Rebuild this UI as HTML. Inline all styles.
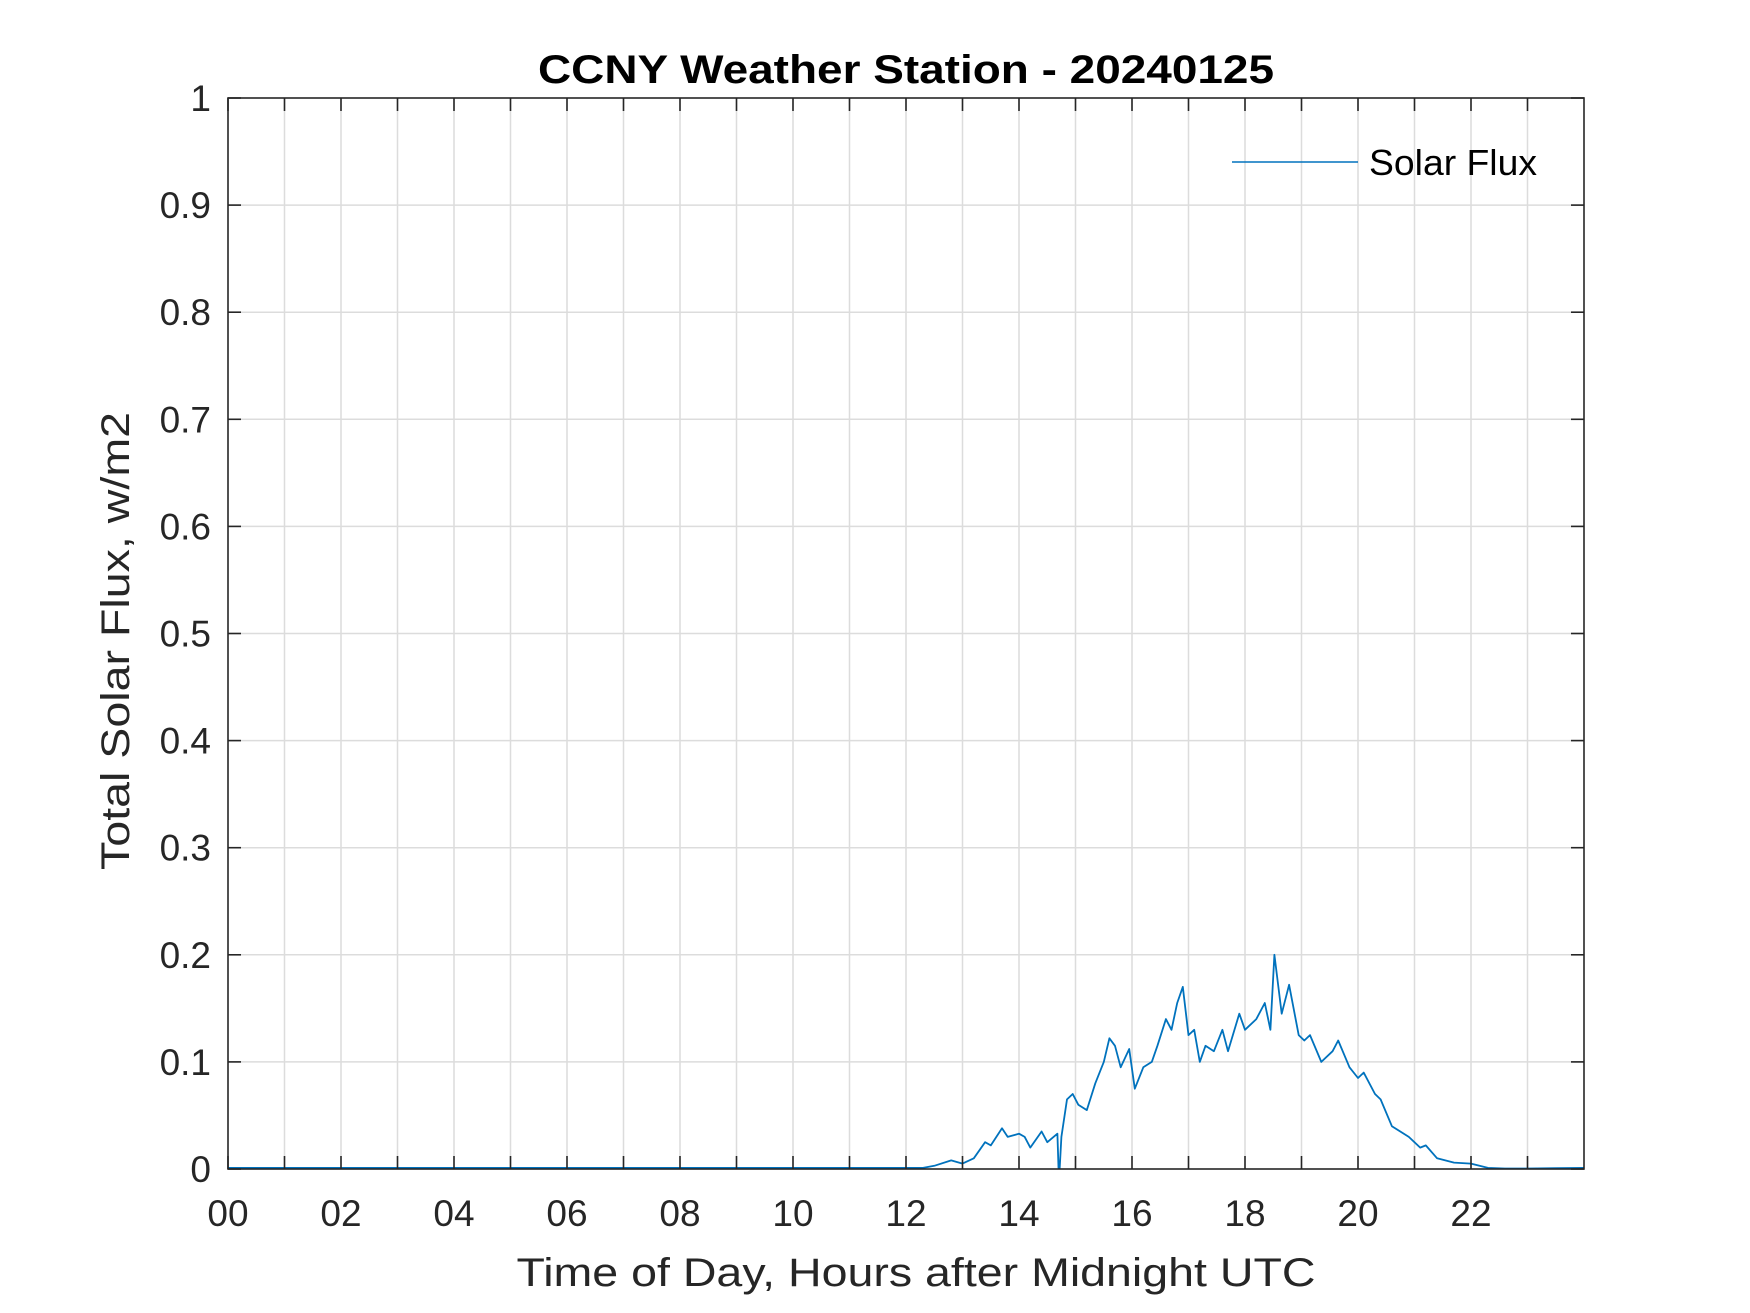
<!DOCTYPE html>
<html><head><meta charset="utf-8"><style>
html,body{margin:0;padding:0;background:#fff;}
svg{display:block;}
text{font-family:"Liberation Sans",Arial,sans-serif;}
</style></head><body>
<svg id="chart" width="1750" height="1313" viewBox="0 0 1750 1313" xmlns="http://www.w3.org/2000/svg">
<rect x="0" y="0" width="1750" height="1313" fill="#fff"/>
<g id="grid"></g>
<g id="series"></g>
<rect x="228" y="98" width="1356" height="1071" fill="none" stroke="#262626" stroke-width="1.6"/>
<g id="ticks"></g>
<text x="906" y="83" text-anchor="middle" font-size="40" font-weight="bold" fill="#000" textLength="736" lengthAdjust="spacingAndGlyphs">CCNY Weather Station - 20240125</text>
<text x="916" y="1286" text-anchor="middle" font-size="40" fill="#262626" textLength="799" lengthAdjust="spacingAndGlyphs">Time of Day, Hours after Midnight UTC</text>
<text transform="translate(129,641) rotate(-90)" text-anchor="middle" font-size="40" fill="#262626" textLength="458" lengthAdjust="spacingAndGlyphs">Total Solar Flux, w/m2</text>
<g>
<line x1="1232" y1="162" x2="1358" y2="162" stroke="#0072BD" stroke-width="1.6"/>
<text x="1369" y="175" font-size="36" fill="#000" textLength="168" lengthAdjust="spacingAndGlyphs">Solar Flux</text>
</g>
</svg>
<script>
const hours = [0,2,4,6,8,10,12,12.3,12.5,12.8,13.0,13.2,13.4,13.5,13.7,13.8,14.0,14.1,14.2,14.4,14.5,14.68,14.7,14.72,14.75,14.85,14.95,15.05,15.2,15.35,15.5,15.6,15.7,15.8,15.95,16.05,16.2,16.35,16.45,16.6,16.7,16.8,16.9,17.0,17.1,17.2,17.3,17.45,17.6,17.7,17.9,18.0,18.2,18.35,18.45,18.52,18.65,18.78,18.95,19.05,19.15,19.35,19.55,19.65,19.85,20.0,20.1,20.3,20.4,20.6,20.9,21.1,21.2,21.4,21.7,22.0,22.3,22.6,23.0,23.5,24];
const flux = [0.001,0.001,0.001,0.001,0.001,0.001,0.001,0.001,0.003,0.008,0.005,0.01,0.025,0.022,0.038,0.03,0.033,0.03,0.02,0.035,0.025,0.033,0.001,0.001,0.03,0.065,0.07,0.06,0.055,0.08,0.1,0.122,0.115,0.095,0.112,0.075,0.095,0.1,0.115,0.14,0.13,0.155,0.17,0.125,0.13,0.1,0.115,0.11,0.13,0.11,0.145,0.13,0.14,0.155,0.13,0.2,0.145,0.172,0.125,0.12,0.125,0.1,0.11,0.12,0.095,0.085,0.09,0.07,0.065,0.04,0.03,0.02,0.022,0.01,0.006,0.005,0.001,0.0005,0.0005,0.0008,0.001];
const xTickLabels = ["00","02","04","06","08","10","12","14","16","18","20","22"];
const yTickLabels = ["0","0.1","0.2","0.3","0.4","0.5","0.6","0.7","0.8","0.9","1"];

const X0=228,X1=1584,Y0=1169,Y1=98;
const xs = h => X0 + (h/24)*(X1-X0);
const ys = v => Y0 - v*(Y0-Y1);
const NS="http://www.w3.org/2000/svg";
const grid=document.getElementById('grid'), ticks=document.getElementById('ticks'), series=document.getElementById('series');
function mk(tag, attrs, parent){const e=document.createElementNS(NS,tag);for(const k in attrs)e.setAttribute(k,attrs[k]);parent.appendChild(e);return e;}

for(let h=1;h<24;h++){
  const x=xs(h);
  const g=mk('line',{x1:x,y1:Y1,x2:x,y2:Y0,stroke:'#dcdcdc','stroke-width':1.5},grid);
  
  
}
for(let i=1;i<10;i++){
  const y=ys(i/10);
  const g=mk('line',{x1:X0,y1:y,x2:X1,y2:y,stroke:'#dcdcdc','stroke-width':1.5},grid);
  
  
}
for(let h=0;h<24;h++){
  const x=xs(h);
  const t1=mk('line',{x1:x,y1:Y0,x2:x,y2:Y0-13,stroke:'#262626','stroke-width':1.6},ticks);
  
  
  const t2=mk('line',{x1:x,y1:Y1,x2:x,y2:Y1+13,stroke:'#262626','stroke-width':1.6},ticks);
  
  
}
xTickLabels.forEach((lab,i)=>{
  const t=mk('text',{x:xs(i*2),y:1226,'text-anchor':'middle','font-size':37,fill:'#262626'},ticks);
  t.textContent=lab;
  
  
});
yTickLabels.forEach((lab,i)=>{
  const y=ys(i/10);
  const a=mk('line',{x1:X0,y1:y,x2:X0+13,y2:y,stroke:'#262626','stroke-width':1.6},ticks);
  
  
  const b=mk('line',{x1:X1,y1:y,x2:X1-13,y2:y,stroke:'#262626','stroke-width':1.6},ticks);
  
  
  const t=mk('text',{x:211,y:y+13,'text-anchor':'end','font-size':37,fill:'#262626'},ticks);
  t.textContent=lab;
  
  
});
const d=hours.map((h,i)=>(i?'L':'M')+xs(h).toFixed(1)+','+ys(flux[i]).toFixed(1)).join(' ');
const p=mk('path',{d:d,fill:'none',stroke:'#0072BD','stroke-width':1.8,'stroke-linejoin':'round'},series);


</script>
</body></html>
